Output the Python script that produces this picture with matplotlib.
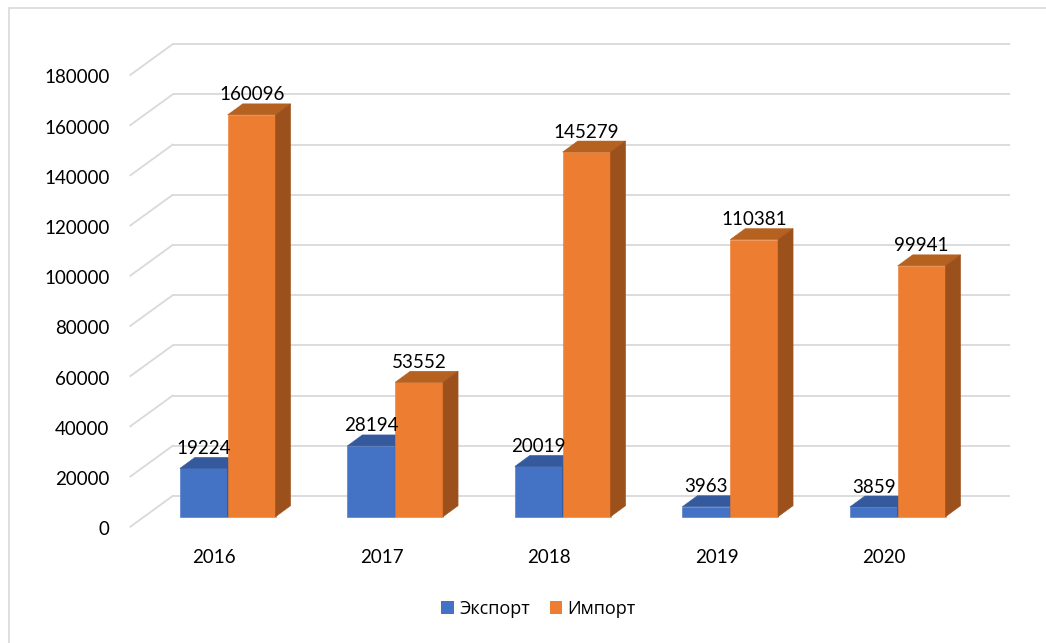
import matplotlib.pyplot as plt
from matplotlib.patches import Polygon, Patch, Rectangle

# data
years = ["2016", "2017", "2018", "2019", "2020"]
export_vals = [19224, 28194, 20019, 3963, 3859]
import_vals = [160096, 53552, 145279, 110381, 99941]
y_ticks = list(range(0, 180001, 20000))
series_names = ["Экспорт", "Импорт"]

# colours: front, top, side
BLUE = ("#4472C4", "#34599C", "#2F528F")
ORANGE = ("#ED7D31", "#B5611F", "#9C501C")
GRID = "#D9D9D9"

W_PX, H_PX = 1046, 643
# pixel anchors of the bar front plane
PX_X0 = 227.7          # pixel x of category 0 (between the two bars)
PX_PER_CAT = 167.5
PX_Y0 = 516.7          # pixel y (from top) of value 0
PX_PER_VAL = 0.00251


def dx(px):
    return px / PX_PER_CAT


def dy(px):
    return px / PX_PER_VAL


BAR_W = 1 / 3.5        # gap width 150 %
DEPTH = (dx(15), dy(11))          # bar depth
WALL = (dx(28.7), dy(20.7))       # bar front -> back wall
FLOOR = (dx(-13.6), dy(-10))      # bar front -> floor front
LEFT, RIGHT = -0.5, len(years) - 0.5

plt.rcParams["font.family"] = ["Lato", "DejaVu Sans"]
FS = 13.5

fig = plt.figure(figsize=(W_PX / 100, H_PX / 100), dpi=100)
ax = fig.add_axes([0, 0, 1, 1])
ax.set_xlim(-PX_X0 / PX_PER_CAT, (W_PX - PX_X0) / PX_PER_CAT)
ax.set_ylim(-(H_PX - PX_Y0) / PX_PER_VAL, PX_Y0 / PX_PER_VAL)
ax.axis("off")

# chart border
fig.add_artist(Rectangle((9 / W_PX, -0.1), 2, 1 - 8 / H_PX + 0.1, transform=fig.transFigure,
                         fill=False, edgecolor=GRID, lw=1.2))

# back wall and side wall gridlines
for t in y_ticks:
    ax.plot([LEFT + WALL[0], RIGHT + WALL[0]], [t + WALL[1], t + WALL[1]],
            color=GRID, lw=1.3, zorder=1, solid_capstyle="butt")
    ax.plot([LEFT + FLOOR[0], LEFT + WALL[0]], [t + FLOOR[1], t + WALL[1]],
            color=GRID, lw=1.3, zorder=1)
    ax.text(LEFT + FLOOR[0] - dx(21), t + FLOOR[1] - dy(3), str(t), ha="right", va="center",
            fontsize=FS, color="#000000")


def bar3d(x0, v, cols):
    x1 = x0 + BAR_W
    ddx, ddy = DEPTH
    front = [(x0, 0), (x1, 0), (x1, v), (x0, v)]
    top = [(x0, v), (x1, v), (x1 + ddx, v + ddy), (x0 + ddx, v + ddy)]
    side = [(x1, 0), (x1 + ddx, ddy), (x1 + ddx, v + ddy), (x1, v)]
    for pts, c in zip((front, top, side), cols):
        ax.add_patch(Polygon(pts, closed=True, facecolor=c, edgecolor=c, lw=0.4, zorder=2))
    ax.text(x0 + BAR_W / 2, v + dy(20), str(v), ha="center", va="center",
            fontsize=FS, color="#000000", zorder=3)


for i, year in enumerate(years):
    bar3d(i - BAR_W, export_vals[i], BLUE)
    bar3d(i, import_vals[i], ORANGE)
    ax.text(i + FLOOR[0], FLOOR[1] - dy(31), year, ha="center", va="center",
            fontsize=FS, color="#000000")

handles = [Patch(facecolor=BLUE[0]), Patch(facecolor=ORANGE[0])]
fig.legend(handles, series_names, loc="center", bbox_to_anchor=(538.5 / W_PX, 1 - 609 / H_PX),
           ncol=2, frameon=False, prop={"family": ["Open Sans", "DejaVu Sans"], "size": 13},
           handlelength=0.7, handleheight=0.7, handletextpad=0.3, columnspacing=1.1)

fig.savefig("out.png", dpi=100)
